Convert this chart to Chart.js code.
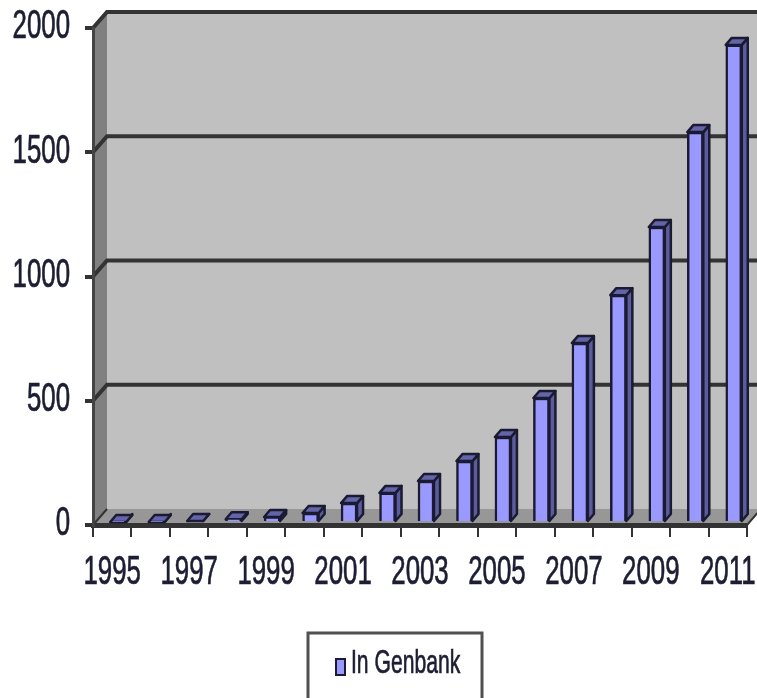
<!DOCTYPE html>
<html>
<head>
<meta charset="utf-8">
<title>In Genbank</title>
<script src="https://cdn.jsdelivr.net/npm/chart.js@4"></script>
<style>
  html, body { margin: 0; padding: 0; background: #fff; }
  canvas { display: block; filter: blur(0.7px); }
</style>
</head>
<body>
<canvas id="genbank-chart" width="757" height="698"></canvas>
<script>
var years = ['1995','1996','1997','1998','1999','2000','2001','2002','2003','2004','2005','2006','2007','2008','2009','2010','2011'];
var inGenbank = [4,4,8,15,24,40,80,121,169,249,346,503,724,917,1191,1573,1924];
var seriesName = 'In Genbank';

// the fake 3D depth of the old spreadsheet chart
var depthX = 14, depthY = 16;
var barShiftX = 6, barShiftY = -2;
var capX = 6, capY = 7;
var textColor = '#1d1d33';

// text in the picture is tall and squeezed, so draw it scaled
function tallText(ctx, text, x, y, align, size, squeeze) {
  ctx.save();
  ctx.translate(x, y);
  ctx.scale(squeeze, 1);
  ctx.font = size + 'px "Liberation Sans"';
  ctx.fillStyle = textColor;
  ctx.strokeStyle = textColor;
  ctx.lineWidth = 0.7;
  ctx.textAlign = align;
  ctx.textBaseline = 'middle';
  ctx.fillText(text, 0, 0);
  ctx.strokeText(text, 0, 0);
  ctx.restore();
}

var fake3d = {
  id: 'fake3d',
  beforeDraw: function (chart) {
    var ctx = chart.ctx, a = chart.chartArea, y = chart.scales.y;
    ctx.save();
    // back wall
    ctx.fillStyle = '#c0c0c0';
    ctx.fillRect(a.left + depthX, a.top - depthY, a.right - a.left + 4, a.bottom - a.top);
    // left wall
    ctx.fillStyle = '#808080';
    ctx.beginPath();
    ctx.moveTo(a.left, a.top);
    ctx.lineTo(a.left + depthX, a.top - depthY);
    ctx.lineTo(a.left + depthX, a.bottom - depthY);
    ctx.lineTo(a.left, a.bottom);
    ctx.closePath();
    ctx.fill();
    // floor
    ctx.fillStyle = '#979797';
    ctx.beginPath();
    ctx.moveTo(a.left, a.bottom);
    ctx.lineTo(a.left + depthX, a.bottom - depthY);
    ctx.lineTo(a.right + depthX, a.bottom - depthY);
    ctx.lineTo(a.right, a.bottom);
    ctx.closePath();
    ctx.fill();
    // gridlines run along the back wall and turn down the left wall
    ctx.strokeStyle = '#333';
    ctx.lineWidth = 4;
    y.ticks.forEach(function (t) {
      if (t.value === 0) return;
      var py = y.getPixelForValue(t.value);
      ctx.beginPath();
      ctx.moveTo(a.left, py);
      ctx.lineTo(a.left + depthX, py - depthY);
      ctx.lineTo(a.right + depthX, py - depthY);
      ctx.stroke();
    });
    ctx.lineWidth = 2;
    ctx.beginPath();
    ctx.moveTo(a.left, a.bottom);
    ctx.lineTo(a.left + depthX, a.bottom - depthY);
    ctx.moveTo(a.right, a.bottom);
    ctx.lineTo(a.right + depthX, a.bottom - depthY);
    ctx.stroke();
    ctx.restore();
  },
  beforeDatasetDraw: function (chart, args) {
    var ctx = chart.ctx;
    ctx.save();
    ctx.translate(barShiftX, barShiftY);
    ctx.lineWidth = 2.5;
    ctx.strokeStyle = '#1a1a33';
    ctx.lineJoin = 'round';
    args.meta.data.forEach(function (bar) {
      var l = bar.x - bar.width / 2, r = bar.x + bar.width / 2;
      var top = bar.y, base = bar.base;
      ctx.fillStyle = '#5c5c9c';
      // side
      ctx.beginPath();
      ctx.moveTo(r, top);
      ctx.lineTo(r + capX, top - capY);
      ctx.lineTo(r + capX, base - capY);
      ctx.lineTo(r, base);
      ctx.closePath();
      ctx.fill();
      ctx.stroke();
      // cap
      ctx.fillStyle = '#6464a8';
      ctx.beginPath();
      ctx.moveTo(l, top);
      ctx.lineTo(l + capX, top - capY);
      ctx.lineTo(r + capX, top - capY);
      ctx.lineTo(r, top);
      ctx.closePath();
      ctx.fill();
      ctx.stroke();
    });
  },
  afterDatasetDraw: function (chart) {
    chart.ctx.restore();
  },
  afterDraw: function (chart) {
    var ctx = chart.ctx, x = chart.scales.x, y = chart.scales.y;
    // tick labels
    y.ticks.forEach(function (t, i) {
      tallText(ctx, t.label, 70, y.getPixelForTick(i) - 1, 'right', 41, 0.63);
    });
    x.ticks.forEach(function (t, i) {
      if (t.label) tallText(ctx, t.label, x.getPixelForTick(i), 573, 'center', 41, 0.63);
    });
    // legend box, cut off by the bottom of the picture
    ctx.save();
    ctx.strokeStyle = '#505050';
    ctx.lineWidth = 3;
    ctx.strokeRect(308, 633, 174, 70);
    ctx.fillStyle = '#9999ff';
    ctx.strokeStyle = '#1a1a33';
    ctx.lineWidth = 2;
    ctx.fillRect(336, 659, 9, 16);
    ctx.strokeRect(336, 659, 9, 16);
    ctx.restore();
    tallText(ctx, chart.data.datasets[0].label, 351, 664, 'left', 33, 0.64);
  }
};

new Chart(document.getElementById('genbank-chart'), {
  type: 'bar',
  plugins: [fake3d],
  data: {
    labels: years,
    datasets: [{
      label: seriesName,
      data: inGenbank,
      backgroundColor: '#9999ff',
      borderColor: '#1a1a33',
      borderWidth: 2.5,
      barThickness: 16,
      clip: false
    }]
  },
  options: {
    responsive: false,
    animation: false,
    layout: { padding: { top: 28, right: 10 } },
    plugins: { legend: { display: false }, tooltip: { enabled: false } },
    scales: {
      x: {
        afterFit: function (s) { s.height = 173; },
        grid: { offset: true, drawOnChartArea: false, color: '#333', lineWidth: 2, tickLength: 12 },
        border: { color: '#333', width: 5 },
        ticks: {
          display: false,
          autoSkip: false,
          callback: function (v, i) { return i % 2 === 0 ? years[i] : ''; }
        }
      },
      y: {
        min: 0,
        max: 2000,
        afterFit: function (s) { s.width = 93; },
        grid: { drawOnChartArea: false, color: '#333', lineWidth: 4, tickLength: 8 },
        border: { color: '#444', width: 3 },
        ticks: {
          display: false,
          stepSize: 500,
          callback: function (v) { return String(v); }
        }
      }
    }
  }
});
</script>
</body>
</html>
